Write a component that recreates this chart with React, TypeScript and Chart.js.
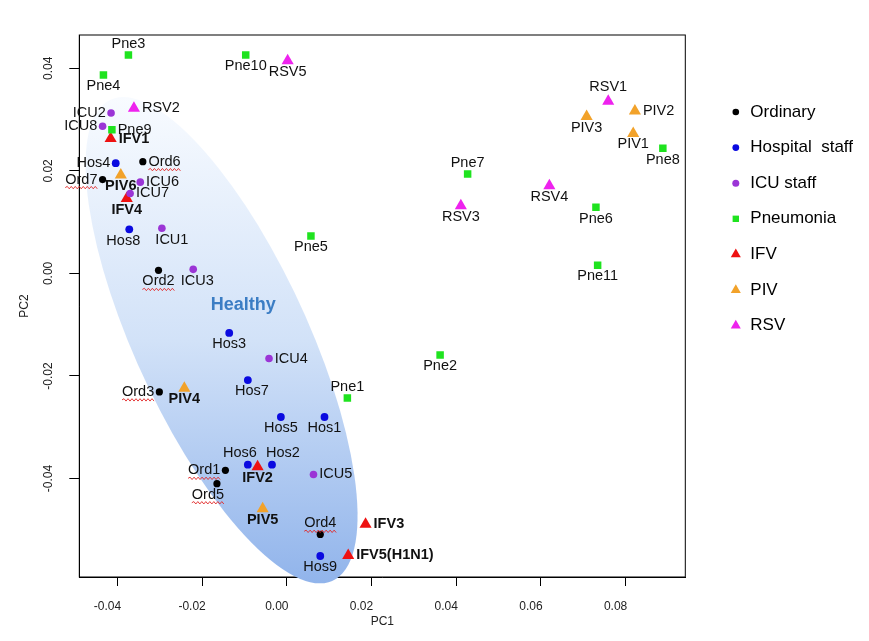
import React, { useEffect, useRef } from 'react';
import { Chart, registerables } from 'chart.js';

Chart.register(...registerables);

const FONT = '"Liberation Sans", Arial, Helvetica, sans-serif';

// ---- data (PC1 / PC2 scores) ----
const ordNames = ['Ord1', 'Ord2', 'Ord3', 'Ord4', 'Ord5', 'Ord6', 'Ord7'];
const ordX = [-0.0145, -0.0303, -0.0301, 0.0079, -0.0165, -0.034, -0.0435];
const ordY = [-0.0384, 0.0006, -0.0231, -0.0509, -0.041, 0.0218, 0.0183];

const hosNames = ['Hos1', 'Hos2', 'Hos3', 'Hos4', 'Hos5', 'Hos6', 'Hos7', 'Hos8', 'Hos9'];
const hosX = [0.0089, -0.0035, -0.0136, -0.0404, -0.0014, -0.0092, -0.0092, -0.0372, 0.0079];
const hosY = [-0.028, -0.0373, -0.0116, 0.0215, -0.028, -0.0373, -0.0208, 0.0086, -0.0551];

const icuNames = ['ICU1', 'ICU2', 'ICU3', 'ICU4', 'ICU5', 'ICU6', 'ICU7', 'ICU8'];
const icuX = [-0.0295, -0.0415, -0.0221, -0.0042, 0.0063, -0.0346, -0.037, -0.0435];
const icuY = [0.0088, 0.0313, 0.0008, -0.0166, -0.0392, 0.0178, 0.0156, 0.0287];

const pneNames = ['Pne1', 'Pne2', 'Pne3', 'Pne4', 'Pne5', 'Pne6', 'Pne7', 'Pne8', 'Pne9', 'Pne10', 'Pne11'];
const pneX = [0.0143, 0.0362, -0.0374, -0.0433, 0.0057, 0.073, 0.0427, 0.0888, -0.0413, -0.0097, 0.0734];
const pneY = [-0.0243, -0.0159, 0.0426, 0.0387, 0.0073, 0.0129, 0.0194, 0.0244, 0.028, 0.0426, 0.0016];

const ifvNames = ['IFV1', 'IFV2', 'IFV3', 'IFV4', 'IFV5(H1N1)'];
const ifvX = [-0.0416, -0.0069, 0.0186, -0.0378, 0.0145];
const ifvY = [0.0263, -0.0377, -0.0489, 0.0146, -0.055];

const pivNames = ['PIV1', 'PIV2', 'PIV3', 'PIV4', 'PIV5', 'PIV6'];
const pivX = [0.0818, 0.0822, 0.0708, -0.0242, -0.0057, -0.0392];
const pivY = [0.0273, 0.0317, 0.0306, -0.0224, -0.0459, 0.0192];

const rsvNames = ['RSV1', 'RSV2', 'RSV3', 'RSV4', 'RSV5'];
const rsvX = [0.0759, -0.0361, 0.0411, 0.062, 0.0002];
const rsvY = [0.0336, 0.0322, 0.0132, 0.0171, 0.0415];

const xTicks = [-0.04, -0.02, 0, 0.02, 0.04, 0.06, 0.08];
const yTicks = [-0.04, -0.02, 0, 0.02, 0.04];
const xRange = [-0.049, 0.0941];
const yRange = [-0.0592, 0.0465];

const legendLabels = ['Ordinary', 'Hospital  staff', 'ICU staff', 'Pneumonia', 'IFV', 'PIV', 'RSV'];

// "Healthy" ellipse in data units: end points of its long diameter and half width along PC1
const healthyTop = [-0.0386, 0.0344];
const healthyBottom = [0.0078, -0.06043];
const healthyHalfWidth = 0.0222;
const healthyLabel = 'Healthy';
const healthyLabelPos = [-0.0103, -0.0061];

// labels written in bold
const boldLabels = ['IFV1', 'IFV2', 'IFV3', 'IFV4', 'IFV5(H1N1)', 'PIV4', 'PIV5', 'PIV6'];

// label placement (style)
const labelAnchor: Record<string, string> = {
  Ord1: 'left', Ord2: 'below', Ord3: 'left', Ord4: 'above', Ord5: 'below', Ord6: 'right', Ord7: 'left',
  Hos1: 'below', Hos2: 'above', Hos3: 'below', Hos4: 'left', Hos5: 'below', Hos6: 'above', Hos7: 'below', Hos8: 'below', Hos9: 'below',
  ICU1: 'below', ICU2: 'left', ICU3: 'below', ICU4: 'right', ICU5: 'right', ICU6: 'right', ICU7: 'right', ICU8: 'left',
  Pne1: 'above', Pne2: 'below', Pne3: 'above', Pne4: 'below', Pne5: 'below', Pne6: 'below', Pne7: 'above', Pne8: 'below', Pne9: 'right', Pne10: 'below', Pne11: 'below',
  IFV1: 'right', IFV2: 'below', IFV3: 'right', IFV4: 'below', 'IFV5(H1N1)': 'right',
  PIV1: 'below', PIV2: 'right', PIV3: 'below', PIV4: 'below', PIV5: 'below', PIV6: 'below',
  RSV1: 'above', RSV2: 'right', RSV3: 'below', RSV4: 'below', RSV5: 'below',
};
// small horizontal nudges of some labels (px)
const labelShift: Record<string, number> = { ICU1: 10, Hos8: -6, Hos6: -8, Hos2: 11, Ord5: -9, Hos7: 4, ICU3: 4 };

type Group = {
  names: string[]; xs: number[]; ys: number[];
  color: string; style: 'circle' | 'rect' | 'triangle'; r: number; squiggle: boolean;
};

const groups: Group[] = [
  { names: ordNames, xs: ordX, ys: ordY, color: '#000000', style: 'circle', r: 3.6, squiggle: true },
  { names: hosNames, xs: hosX, ys: hosY, color: '#0a0ae0', style: 'circle', r: 3.9, squiggle: false },
  { names: icuNames, xs: icuX, ys: icuY, color: '#9b35d6', style: 'circle', r: 3.8, squiggle: false },
  { names: pneNames, xs: pneX, ys: pneY, color: '#1fe31f', style: 'rect', r: 5.3, squiggle: false },
  { names: ifvNames, xs: ifvX, ys: ifvY, color: '#ee1111', style: 'triangle', r: 7, squiggle: false },
  { names: pivNames, xs: pivX, ys: pivY, color: '#f2a22a', style: 'triangle', r: 7, squiggle: false },
  { names: rsvNames, xs: rsvX, ys: rsvY, color: '#ee22ee', style: 'triangle', r: 7, squiggle: false },
];

function drawMarker(ctx: CanvasRenderingContext2D, style: string, x: number, y: number, r: number, color: string) {
  ctx.fillStyle = color;
  ctx.beginPath();
  if (style === 'circle') {
    ctx.arc(x, y, r, 0, Math.PI * 2);
  } else if (style === 'rect') {
    const s = r * Math.SQRT1_2;
    ctx.rect(x - s, y - s, 2 * s, 2 * s);
  } else {
    ctx.moveTo(x, y - r);
    ctx.lineTo(x + r * Math.cos(Math.PI / 6), y + r / 2);
    ctx.lineTo(x - r * Math.cos(Math.PI / 6), y + r / 2);
    ctx.closePath();
  }
  ctx.fill();
}

const decorPlugin = {
  id: 'decor',
  beforeDatasetsDraw(chart: any) {
    const { ctx, chartArea: a, scales } = chart;
    const x = scales.x, y = scales.y;
    ctx.save();
    ctx.strokeStyle = '#000';
    ctx.lineWidth = 1;
    ctx.strokeRect(a.left, a.top, a.right - a.left, a.bottom - a.top);

    const tx = x.getPixelForValue(healthyTop[0]);
    const ty = y.getPixelForValue(healthyTop[1]);
    const bx = x.getPixelForValue(healthyBottom[0]);
    const by = y.getPixelForValue(healthyBottom[1]);
    const cx = (tx + bx) / 2, cy = (ty + by) / 2;
    const vx = (bx - tx) / 2, vy = (by - ty) / 2;
    const hw = x.getPixelForValue(healthyHalfWidth) - x.getPixelForValue(0);
    ctx.save();
    ctx.transform(hw, 0, vx, vy, cx, cy);
    const g = ctx.createLinearGradient(0, -1, 0, 1);
    g.addColorStop(0, '#f8fbff');
    g.addColorStop(0.5, '#d2e2f8');
    g.addColorStop(1, '#91b4eb');
    ctx.fillStyle = g;
    ctx.beginPath();
    ctx.arc(0, 0, 1, 0, Math.PI * 2);
    ctx.fill();
    ctx.restore();

    ctx.font = `bold 18px ${FONT}`;
    ctx.fillStyle = '#3b7dc4';
    ctx.textAlign = 'center';
    ctx.textBaseline = 'middle';
    ctx.fillText(healthyLabel, x.getPixelForValue(healthyLabelPos[0]), y.getPixelForValue(healthyLabelPos[1]));
    ctx.restore();
  },
  afterDatasetsDraw(chart: any) {
    const { ctx } = chart;
    ctx.save();
    chart.data.datasets.forEach((ds: any, di: number) => {
      const meta = chart.getDatasetMeta(di);
      const grp: Group = groups[di];
      const tri = grp.style === 'triangle';
      const half = tri ? 6 : grp.r * (grp.style === 'rect' ? Math.SQRT1_2 : 1);
      const topExt = tri ? grp.r : half;
      const botExt = tri ? grp.r / 2 : half;
      meta.data.forEach((pt: any, i: number) => {
        const name = grp.names[i];
        const anchor = labelAnchor[name] || 'below';
        let lx = pt.x + (labelShift[name] || 0), ly = pt.y;
        let align: CanvasTextAlign = 'center';
        if (anchor === 'left') { lx -= half + 1.5; align = 'right'; }
        else if (anchor === 'right') { lx += half + 2; align = 'left'; }
        else if (anchor === 'above') { ly -= topExt + 7.5; }
        else { ly += botExt + 7.5; }
        const bold = boldLabels.includes(name);
        ctx.font = `${bold ? 'bold ' : ''}14.5px ${FONT}`;
        ctx.textAlign = align;
        ctx.textBaseline = 'middle';
        ctx.fillStyle = '#111';
        ctx.fillText(name, lx, ly);
        if (grp.squiggle) {
          const w = ctx.measureText(name).width;
          const x0 = align === 'right' ? lx - w : align === 'center' ? lx - w / 2 : lx;
          const yy = ly + 8;
          ctx.strokeStyle = 'rgba(225,40,40,0.9)';
          ctx.lineWidth = 1;
          ctx.beginPath();
          let up = true;
          ctx.moveTo(x0, yy);
          for (let xx = x0 + 2; xx <= x0 + w; xx += 2) {
            ctx.lineTo(xx, yy + (up ? -1.2 : 1.2));
            up = !up;
          }
          ctx.stroke();
        }
      });
    });
    ctx.restore();
  },
  afterDraw(chart: any) {
    const { ctx, chartArea: a } = chart;
    ctx.save();
    const mx = a.right + 50.5;
    const y0 = a.top + 77;
    const step = 35.6;
    const legR = [3.3, 3.4, 3.5, 4.5, 5.8, 5.8, 5.8];
    legendLabels.forEach((lab, i) => {
      const yy = y0 + i * step;
      drawMarker(ctx, groups[i].style, mx, yy, legR[i], groups[i].color);
      ctx.font = `17px ${FONT}`;
      ctx.fillStyle = '#000';
      ctx.textAlign = 'left';
      ctx.textBaseline = 'middle';
      ctx.fillText(lab, mx + 14.5, yy);
    });
    ctx.restore();
  },
};

export default function App() {
  const ref = useRef<HTMLCanvasElement | null>(null);
  useEffect(() => {
    if (!ref.current) return;
    const datasets = groups.map((g, gi) => ({
      label: legendLabels[gi],
      data: g.xs.map((v, i) => ({ x: v, y: g.ys[i] })),
      backgroundColor: g.color,
      borderColor: g.color,
      borderWidth: 0,
      pointStyle: g.style,
      pointRadius: g.r,
      pointHoverRadius: g.r,
      showLine: false,
    }));
    const tickFont = { family: FONT, size: 12 };
    const chart = new Chart(ref.current, {
      type: 'scatter',
      data: { datasets },
      plugins: [decorPlugin],
      options: {
        animation: false,
        responsive: false,
        devicePixelRatio: 1,
        events: [],
        layout: { padding: { left: 0, top: 35, right: 183.7, bottom: 0 } },
        plugins: { legend: { display: false }, tooltip: { enabled: false } },
        scales: {
          x: {
            type: 'linear',
            min: xRange[0],
            max: xRange[1],
            afterFit: (s: any) => { s.height = 64; },
            afterBuildTicks: (s: any) => { s.ticks = xTicks.map((v) => ({ value: v })); },
            grid: { display: true, drawOnChartArea: false, drawTicks: true, tickLength: 9, tickColor: '#000', color: '#000' },
            border: { display: true, color: '#000', width: 1 },
            ticks: {
              font: tickFont, color: '#222', padding: 13.5, labelOffset: -10, maxRotation: 0, minRotation: 0,
              callback: (v: any) => Number(v).toFixed(2),
            },
            title: { display: true, text: 'PC1', font: tickFont, color: '#222', padding: { top: 0, bottom: 11.8 } },
          },
          y: {
            type: 'linear',
            min: yRange[0],
            max: yRange[1],
            afterFit: (s: any) => { s.width = 79.3; },
            afterBuildTicks: (s: any) => { s.ticks = yTicks.map((v) => ({ value: v })); },
            grid: { display: true, drawOnChartArea: false, drawTicks: true, tickLength: 10, tickColor: '#000', color: '#000' },
            border: { display: true, color: '#000', width: 1 },
            ticks: {
              font: tickFont, color: '#222', padding: 6.5, minRotation: 90, maxRotation: 90, crossAlign: 'center',
              callback: (v: any) => Number(v).toFixed(2),
            },
            title: { display: true, text: 'PC2', font: tickFont, color: '#222', padding: { top: 17.8, bottom: 0 } },
          },
        },
      } as any,
    });
    return () => chart.destroy();
  }, []);
  return (
    <div style={{ position: 'absolute', left: 0, top: 0, width: 869, height: 641, background: '#fff' }}>
      <canvas ref={ref} width={869} height={641} style={{ display: 'block', width: 869, height: 641 }} />
    </div>
  );
}
